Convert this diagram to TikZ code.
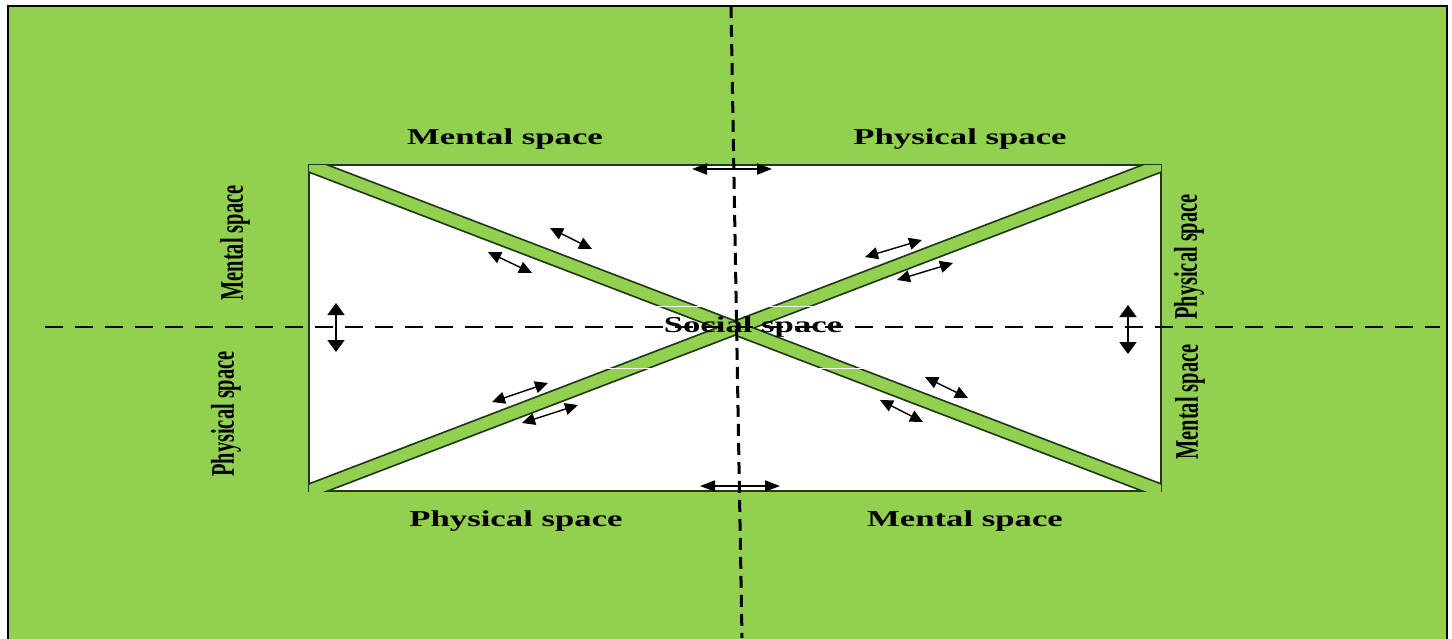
\documentclass[tikz,border=0pt]{standalone}
\usepackage{fontspec}
\setmainfont{Liberation Serif}
\usetikzlibrary{arrows.meta,calc}
\definecolor{leafgreen}{HTML}{92D050}
\definecolor{bandedge}{HTML}{22361A}

\newcommand{\hlabel}[1]{\scalebox{1.53}[1]{\bfseries #1}}
\newcommand{\vlabel}[1]{\scalebox{0.9}[1.45]{\bfseries #1}}

\begin{document}
\begin{tikzpicture}[x=1pt, y=-1pt,
    haxis/.style={black, line width=2.7pt, dash pattern=on 18pt off 12pt},
    vaxis/.style={black, line width=3pt, dash pattern=on 12pt off 7pt},
    bandline/.style={bandedge, line width=15pt},
    bandfill/.style={leafgreen, line width=11.5pt},
    hflow/.style={{Triangle[length=15pt,width=11pt]}-{Triangle[length=15pt,width=11pt]}, line width=1.8pt},
    vflow/.style={{Triangle[length=12pt,width=17pt]}-{Triangle[length=12pt,width=17pt]}, line width=1.8pt},
    link/.style={{Triangle[length=13pt,width=12pt]}-{Triangle[length=13pt,width=12pt]}, line width=1.4pt},
    hlab/.style={font=\fontsize{22.7}{26}\selectfont, text=black, inner sep=0pt},
    vlab/.style={hlab, rotate=90}
]
\useasboundingbox (0,0) rectangle (1452,638);

% background and frame
\fill[leafgreen] (8,6) rectangle (1447,640);
\draw[line width=1.5pt] (8,640) -- (8,6) -- (1447,6) -- (1447,640);

% the room
\coordinate (tl) at (309,165);
\coordinate (tr) at (1161,165);
\coordinate (bl) at (309,491);
\coordinate (br) at (1161,491);
\filldraw[fill=white, draw=bandedge, line width=2pt] (tl) rectangle (br);

% diagonal bands
\begin{scope}
  \clip (tl) rectangle (br);
  \draw[bandline] ($(tl)!-0.05!(br)$) -- ($(br)!-0.05!(tl)$);
  \draw[bandline] ($(bl)!-0.05!(tr)$) -- ($(tr)!-0.05!(bl)$);
  \draw[bandfill] ($(tl)!-0.05!(br)$) -- ($(br)!-0.05!(tl)$);
  \draw[bandfill] ($(bl)!-0.05!(tr)$) -- ($(tr)!-0.05!(bl)$);
  \draw[white, line width=0.8pt] (655,306) -- (815,306);
  \draw[white, line width=0.8pt] (600,368) -- (870,368);
\end{scope}

% labels
\node[hlab] (mentalTop) at (505,139) {\hlabel{Mental space}};
\node[hlab] (physicalTop) at (960,139) {\hlabel{Physical space}};
\node[hlab] (physicalBottom) at (516,521) {\hlabel{Physical space}};
\node[hlab] (mentalBottom) at (965,521) {\hlabel{Mental space}};
\node[vlab] (mentalLeft) at (235,243) {\vlabel{Mental space}};
\node[vlab] (physicalLeft) at (226,414) {\vlabel{Physical space}};
\node[vlab] (physicalRight) at (1189,257) {\vlabel{Physical space}};
\node[vlab] (mentalRight) at (1190,402) {\vlabel{Mental space}};
\node[hlab] (social) at (753,327) {\hlabel{Social space}};

% axes
\coordinate (axisW) at (45,327);
\coordinate (axisE) at (1440,327);
\coordinate (axisN) at (731,6);
\coordinate (axisS) at (742,638);
\draw[haxis] (axisW) -- (axisE);
\draw[vaxis] (axisN) -- (axisS);

% exchanges
\coordinate (topA) at (692,169);   \coordinate (topB) at (772,169);
\coordinate (botA) at (700,486);   \coordinate (botB) at (780,486);
\coordinate (leftA) at (336,303);  \coordinate (leftB) at (336,352);
\coordinate (rightA) at (1128,305); \coordinate (rightB) at (1128,354);
\draw[hflow] (topA) -- (topB);
\draw[hflow] (botA) -- (botB);
\draw[vflow] (leftA) -- (leftB);
\draw[vflow] (rightA) -- (rightB);

\coordinate (tlA) at (550,228); \coordinate (tlB) at (592,249);
\coordinate (tlC) at (488,252); \coordinate (tlD) at (532,273);
\coordinate (trA) at (865,257); \coordinate (trB) at (922,240);
\coordinate (trC) at (897,280); \coordinate (trD) at (953,263);
\coordinate (blA) at (492,402); \coordinate (blB) at (548,383);
\coordinate (blC) at (522,423); \coordinate (blD) at (578,405);
\coordinate (brA) at (925,377); \coordinate (brB) at (968,398);
\coordinate (brC) at (880,400); \coordinate (brD) at (923,422);
\draw[link] (tlA) -- (tlB);
\draw[link] (tlC) -- (tlD);
\draw[link] (trA) -- (trB);
\draw[link] (trC) -- (trD);
\draw[link] (blA) -- (blB);
\draw[link] (blC) -- (blD);
\draw[link] (brA) -- (brB);
\draw[link] (brC) -- (brD);
\end{tikzpicture}
\end{document}
